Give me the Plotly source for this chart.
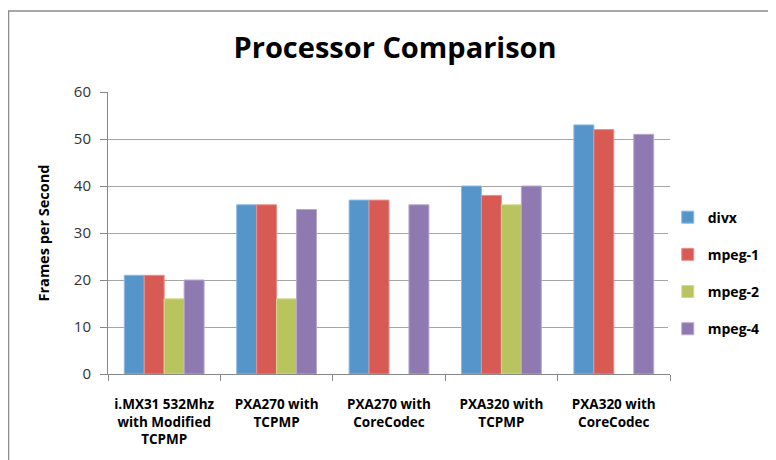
import plotly.graph_objects as go

categories = ["i.MX31 532Mhz<br>with Modified<br>TCPMP", "PXA270 with<br>TCPMP",
              "PXA270 with<br>CoreCodec", "PXA320 with<br>TCPMP", "PXA320 with<br>CoreCodec"]
divx = [21, 36, 37, 40, 53]
mpeg1 = [21, 36, 37, 38, 52]
mpeg2 = [16, 16, None, 36, None]
mpeg4 = [20, 35, 36, 40, 51]

series = [("divx", divx, "#5595CA", "#8DBAE0"),
          ("mpeg-1", mpeg1, "#D85A55", "#EA8F8B"),
          ("mpeg-2", mpeg2, "#BAC45E", "#D3DB92"),
          ("mpeg-4", mpeg4, "#8E7AB0", "#B6A8CF")]

fig = go.Figure()
for i, (name, vals, col, lcol) in enumerate(series):
    fig.add_trace(go.Bar(name="<b>" + name + "</b>", x=categories, y=vals,
                         marker=dict(color=col, line=dict(color=lcol, width=1)),
                         legendgroup=name))

# page body adds an 8px offset, so the figure is 768x452 with margins shifted
fig.update_layout(
    width=768, height=452,
    margin=dict(l=100, r=106, t=84, b=86, autoexpand=False),
    paper_bgcolor="white", plot_bgcolor="white",
    barmode="group", bargap=0.29, bargroupgap=0,
    title=dict(text="<b>Processor Comparison</b>", x=0.504, xanchor="center",
               y=0.912, yanchor="middle",
               font=dict(family="Open Sans", size=29, color="black")),
    font=dict(family="Open Sans", color="black"),
    legend=dict(x=0.996, y=0.358, xanchor="left", yanchor="middle",
                font=dict(size=14, color="black", family="Open Sans"),
                traceorder="grouped", tracegroupgap=16, itemwidth=30),
    showlegend=True,
)
fig.update_xaxes(type="category", tickson="boundaries", ticks="outside", ticklen=6,
                 tickcolor="#888888", showline=True, linecolor="#888888",
                 tickprefix="<b>", ticksuffix="</b>", ticklabelstandoff=18, tickangle=0,
                 tickfont=dict(size=13.5, color="black", family="Open Sans"), showgrid=False)
fig.update_yaxes(range=[0, 60], dtick=10, ticks="outside", ticklen=7, tickcolor="#888888",
                 showline=True, linecolor="#888888", showgrid=True, gridcolor="#a6a6a6",
                 ticklabelstandoff=6,
                 tickfont=dict(size=15, color="#333333"),
                 title=dict(text="<b>Frames per Second</b>", font=dict(size=14.5, color="black"), standoff=20))
fig.add_shape(type="rect", xref="paper", yref="paper",
              x0=-0.177, x1=1.3, y0=-0.6, y1=1.287,
              line=dict(color="#8c8c8c", width=1.5), fillcolor="rgba(0,0,0,0)", layer="below")
fig.write_html("out.html")
